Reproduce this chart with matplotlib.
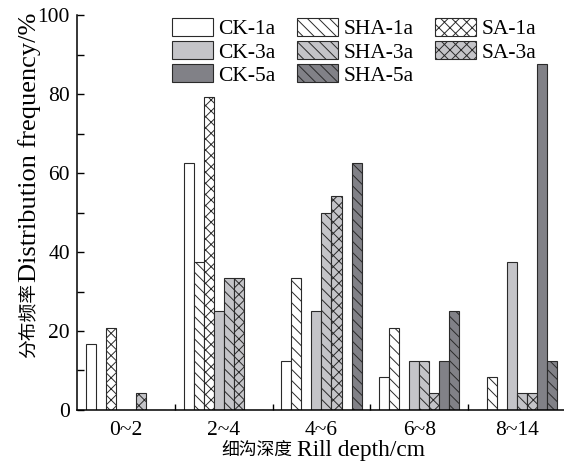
import numpy as np
import matplotlib
matplotlib.use('Agg')
import matplotlib.pyplot as plt
from matplotlib.ticker import MultipleLocator, FixedLocator

plt.rcParams['font.family'] = ['Liberation Serif', 'Noto Sans CJK SC']
plt.rcParams['hatch.linewidth'] = 0.7

categories = ['0~2', '2~4', '4~6', '6~8', '8~14']
series_names = ['CK-1a', 'SHA-1a', 'SA-1a', 'CK-3a', 'SHA-3a', 'SA-3a', 'CK-5a', 'SHA-5a']
ck_1a = [16.7, 62.5, 12.5, 8.3, 0]
sha_1a = [0, 37.5, 33.3, 20.8, 8.3]
sa_1a = [20.8, 79.2, 0, 0, 0]
ck_3a = [0, 25.0, 25.0, 12.5, 37.5]
sha_3a = [0, 33.3, 50.0, 12.5, 4.2]
sa_3a = [4.2, 33.3, 54.2, 4.2, 4.2]
ck_5a = [0, 0, 0, 12.5, 87.5]
sha_5a = [0, 0, 62.5, 25.0, 12.5]
series_values = [ck_1a, sha_1a, sa_1a, ck_3a, sha_3a, sa_3a, ck_5a, sha_5a]

WHITE, LIGHT, DARK = '#ffffff', '#c4c4c8', '#818187'
styles = {
    'CK-1a': (WHITE, ''), 'CK-3a': (LIGHT, ''), 'CK-5a': (DARK, ''),
    'SHA-1a': (WHITE, '\\\\\\'), 'SHA-3a': (LIGHT, '\\\\\\'), 'SHA-5a': (DARK, '\\\\\\'),
    'SA-1a': (WHITE, 'xxx'), 'SA-3a': (LIGHT, 'xxx'),
}

fig = plt.figure(figsize=(5.64, 4.63), dpi=100)
ax = fig.add_axes([0.1365, 0.1145, 0.8635, 0.853])

x = np.arange(len(categories))
w = 0.1025
handles = {}
for i, (name, vals) in enumerate(zip(series_names, series_values)):
    fc, hatch = styles[name]
    bars = ax.bar(x + (i - 3.5) * w, vals, width=w, facecolor=fc, hatch=hatch,
                  edgecolor='#2a2a2a', linewidth=0.8, label=name)
    handles[name] = bars

ax.set_xlim(-0.5, 4.48)
ax.set_ylim(0, 100)
ax.set_xticks(x)
ax.set_xticklabels(categories)
ax.xaxis.set_minor_locator(FixedLocator(x[:-1] + 0.5))
ax.yaxis.set_major_locator(MultipleLocator(20))
ax.yaxis.set_minor_locator(MultipleLocator(10))
ax.tick_params(axis='x', which='major', length=0, pad=8, labelsize=15.5)
ax.tick_params(axis='x', which='minor', direction='in', length=4, width=1)
ax.tick_params(axis='y', which='both', direction='in', length=5, width=1, labelsize=15.5, pad=5)
for s in ['top', 'right']:
    ax.spines[s].set_visible(False)
for s in ['left', 'bottom']:
    ax.spines[s].set_linewidth(1.1)

# axis titles: Chinese and English parts drawn at different sizes
fig.text(0.052, 0.389, '分布频率', rotation=90, rotation_mode='anchor', ha='right', va='center',
         fontsize=13.5, family='Noto Sans CJK SC')
fig.text(0.052, 0.392, 'Distribution frequency/%', rotation=90, rotation_mode='anchor',
         ha='left', va='center', fontsize=19)
fig.text(0.519, 0.028, '细沟深度', ha='right', va='center', fontsize=12.8, family='Noto Sans CJK SC')
fig.text(0.527, 0.028, 'Rill depth/cm', ha='left', va='center', fontsize=16.8)

order = ['CK-1a', 'CK-3a', 'CK-5a', 'SHA-1a', 'SHA-3a', 'SHA-5a', 'SA-1a', 'SA-3a']
fig.legend([handles[n] for n in order], order, loc='upper left', bbox_to_anchor=(0.305, 0.961),
           ncol=3, frameon=False, fontsize=15.5, handlelength=1.9, handleheight=0.9,
           handletextpad=0.25, labelspacing=0.08, columnspacing=1.0, borderpad=0,
           borderaxespad=0)

fig.savefig('out.png', dpi=100)
